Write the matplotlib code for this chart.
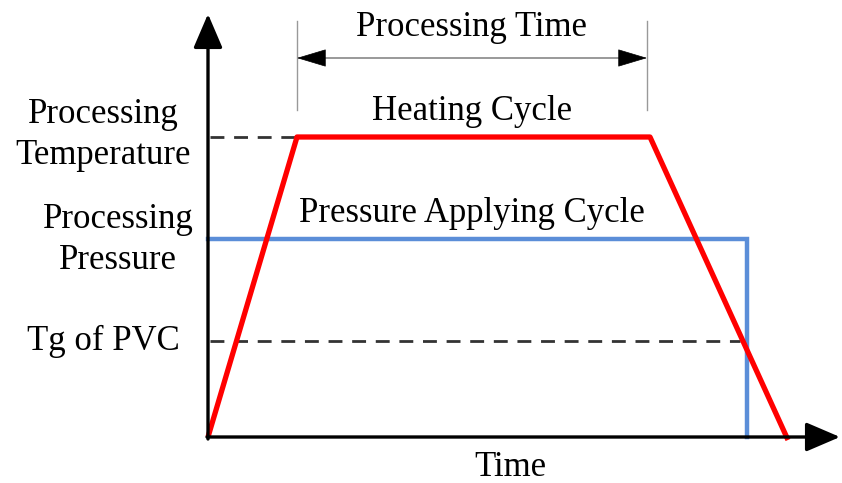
import matplotlib.pyplot as plt

# heating cycle (time, temperature level)
heat_time = [0, 89, 442, 580]
heat_level = [0, 300, 300, -3]

# pressure applying cycle
press_time = [0, 539, 539]
press_level = [198, 198, 0]

# reference levels
temp_level = 300
press_ref = 198
tg_level = 96
tg_end = 532

# processing time markers
proc_start = 89
proc_end = 439

y_labels = ["Processing\nTemperature", "Processing\nPressure", "Tg of PVC"]


def main():
    plt.rcParams['font.family'] = ['Liberation Serif', 'DejaVu Serif']
    fig = plt.figure(figsize=(8.42, 4.83), dpi=100)
    ax = fig.add_axes([0, 0, 1, 1])
    ax.set_xlim(-208, 634)
    ax.set_ylim(-46, 437)
    ax.axis('off')

    # axes with arrows
    ax.annotate('', xy=(0, 423), xytext=(0, -2),
                arrowprops=dict(arrowstyle='-|>,head_length=1.4,head_width=0.6',
                                lw=2.4, color='k', mutation_scale=15,
                                shrinkA=0, shrinkB=0))
    ax.annotate('', xy=(632, 0), xytext=(-1, 0),
                arrowprops=dict(arrowstyle='-|>,head_length=1.4,head_width=0.6',
                                lw=2.4, color='k', mutation_scale=15,
                                shrinkA=0, shrinkB=0))

    # dashed reference lines
    ax.plot([2, proc_start], [temp_level, temp_level], ls=(0, (5, 3.5)),
            color='#333333', lw=2)
    ax.plot([2, tg_end], [tg_level, tg_level], ls=(0, (5, 3.5)),
            color='#333333', lw=2)

    # cycles
    ax.plot(press_time, press_level, color='#5b8ed8', lw=3.2,
            solid_joinstyle='miter')
    ax.plot(heat_time, heat_level, color='#ff0000', lw=3.8,
            solid_capstyle='butt')

    # processing time dimension
    for x in (proc_start, proc_end):
        ax.plot([x, x], [327, 416], color='#999999', lw=1)
    ax.plot([proc_start + 10, proc_end - 10], [379, 379],
            color='#888888', lw=1.2)
    for x0, x1 in ((proc_start + 18, proc_start), (proc_end - 18, proc_end)):
        ax.annotate('', xy=(x1, 379), xytext=(x0, 379),
                    arrowprops=dict(arrowstyle='-|>,head_length=1.5,head_width=0.45',
                                    lw=0.5, color='k', mutation_scale=13,
                                    shrinkA=0, shrinkB=0))

    fs = 25
    ax.text((proc_start + proc_end) / 2, 410, 'Processing Time',
            ha='center', va='center', fontsize=fs)
    ax.text((proc_start + proc_end) / 2, 325, 'Heating Cycle',
            ha='center', va='center', fontsize=fs)
    ax.text((proc_start + proc_end) / 2, 224, 'Pressure Applying Cycle',
            ha='center', va='center', fontsize=fs)
    ax.text(302, -30, 'Time', ha='center', va='center', fontsize=fs)

    ax.text(-105, temp_level + 2, y_labels[0], ha='center', va='center',
            fontsize=fs, linespacing=1.32, multialignment='center')
    ax.text(-90, press_ref - 1, y_labels[1], ha='center', va='center',
            fontsize=fs, linespacing=1.32, multialignment='center')
    ax.text(-28, tg_level, y_labels[2], ha='right', va='center', fontsize=fs)

    fig.savefig('out.png', dpi=100)


if __name__ == "__main__":
    main()
